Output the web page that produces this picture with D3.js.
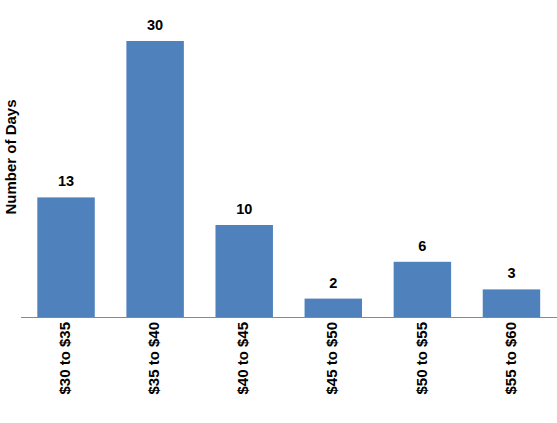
<!DOCTYPE html>
<html><head><meta charset="utf-8">
<script src="https://cdn.jsdelivr.net/npm/d3@7"></script>
<style>body{margin:0;background:#fff}svg{display:block}text{font-family:"Liberation Sans",Arial,sans-serif;font-weight:bold;fill:#000}</style>
</head><body>
<svg id="c" width="557" height="423"></svg>
<script>
const categories = ["$30 to $35","$35 to $40","$40 to $45","$45 to $50","$50 to $55","$55 to $60"];
const values = [13,30,10,2,6,3];
const yTitle = "Number of Days";

const svg = d3.select("#c");
const x = d3.scaleBand().domain(categories).range([21.5,556]).paddingInner(0.355).paddingOuter(0.1775);
const y = d3.scaleLinear().domain([0,30]).range([317,41]);

svg.selectAll("rect.bar").data(values).join("rect")
  .attr("class","bar")
  .attr("x",(d,i)=>x(categories[i]))
  .attr("width",x.bandwidth())
  .attr("y",d=>y(d))
  .attr("height",d=>y(0)-y(d))
  .attr("fill","#4F81BD");

svg.selectAll("text.val").data(values).join("text")
  .attr("class","val")
  .attr("x",(d,i)=>x(categories[i])+x.bandwidth()/2)
  .attr("y",d=>y(d)-11)
  .attr("text-anchor","middle")
  .attr("font-size",14.5)
  .text(d=>d);

const xAxis = svg.append("g").attr("transform",`translate(0,${y(0)})`)
  .call(d3.axisBottom(x).tickSize(0).tickSizeOuter(0));
xAxis.select(".domain").attr("stroke","#888").attr("d","M21,0.5H557");
xAxis.selectAll(".tick text")
  .attr("transform","rotate(-90)")
  .attr("text-anchor","end")
  .attr("x",-5).attr("y",0).attr("dy","0.28em")
  .attr("font-size",15)
  .style("font-family",'"Liberation Sans",Arial,sans-serif')
  .style("font-weight","bold")
  .attr("fill","#000");

svg.append("text")
  .attr("transform","translate(15.5,157) rotate(-90)")
  .attr("text-anchor","middle")
  .attr("font-size",15)
  .text(yTitle);
</script>
</body></html>
